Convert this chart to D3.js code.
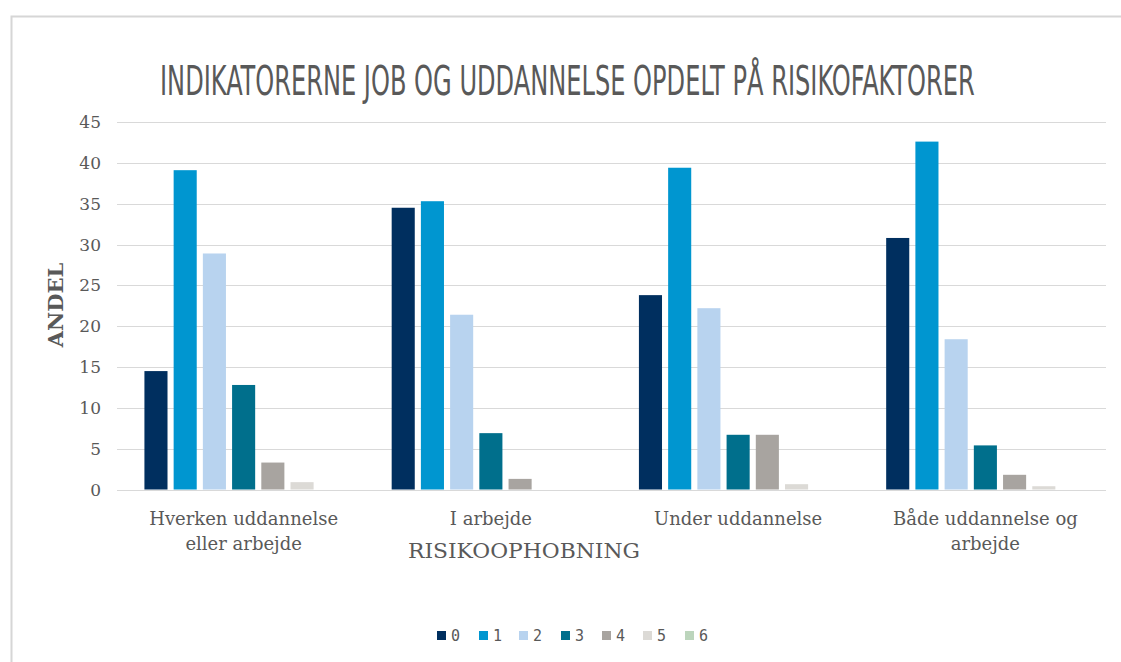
<!DOCTYPE html>
<html><head><meta charset="utf-8">
<script src="https://cdn.jsdelivr.net/npm/d3@7/dist/d3.min.js"></script>
<style>body{margin:0;background:#fff}svg{display:block}</style>
</head><body>
<svg id="chart" width="1121" height="662"></svg>
<script>
const categories = [["Hverken uddannelse","eller arbejde"],["I arbejde"],["Under uddannelse"],["Både uddannelse og","arbejde"]];
const seriesNames = ["0","1","2","3","4","5","6"];
const s0 = [14.5, 34.5, 23.8, 30.8];
const s1 = [39.1, 35.3, 39.4, 42.6];
const s2 = [28.9, 21.4, 22.2, 18.4];
const s3 = [12.8, 6.9, 6.7, 5.4];
const s4 = [3.3, 1.3, 6.7, 1.8];
const s5 = [0.9, 0, 0.65, 0.4];
const s6 = [0, 0, 0, 0];
const seriesValues = [s0,s1,s2,s3,s4,s5,s6];
const colors = ["#002f5f","#0096d0","#b8d3ef","#006f8c","#a8a4a0","#dcdad6","#bcd5bc"];
const yTicks = [0,5,10,15,20,25,30,35,40,45];

const svg = d3.select("#chart");
svg.append("path").attr("d","M11.5,662 V16.5 H1121").attr("fill","none").attr("stroke","#d6d6d6").attr("stroke-width",2);

const x0 = d3.scaleBand().domain(d3.range(categories.length)).range([120,1109]).paddingInner(0).paddingOuter(0);
const x1 = d3.scaleBand().domain(d3.range(seriesNames.length)).range([21.5, 247.25-21.5]).paddingInner(0.21).paddingOuter(0.1);
const y = d3.scaleLinear().domain([0,45]).range([489.5,122]);

svg.append("g").selectAll("line").data(yTicks).join("line")
  .attr("x1",117).attr("x2",1106)
  .attr("y1",d=>Math.round(y(d))+0.5).attr("y2",d=>Math.round(y(d))+0.5)
  .attr("stroke","#d9d9d9").attr("stroke-width",1.2);

svg.append("g").selectAll("text").data(yTicks).join("text")
  .attr("x",101).attr("y",d=>y(d)+6).attr("text-anchor","end")
  .attr("font-family","'DejaVu Serif', serif").attr("font-size",17).attr("fill","#595959")
  .text(d=>d);

const groups = svg.append("g").selectAll("g").data(categories).join("g")
  .attr("transform",(d,i)=>`translate(${x0(i)},0)`);
groups.selectAll("rect").data((d,i)=>seriesValues.map((s,k)=>({k,v:s[i]}))).join("rect")
  .attr("x",d=>x1(d.k)).attr("width",x1.bandwidth())
  .attr("y",d=>y(d.v)).attr("height",d=>y(0)-y(d.v))
  .attr("fill",d=>colors[d.k]);

svg.append("g").selectAll("text").data(categories).join("text")
  .attr("x",(d,i)=>x0(i)+x0.bandwidth()/2).attr("y",525)
  .attr("text-anchor","middle").attr("font-family","'DejaVu Serif', serif").attr("font-size",18).attr("fill","#595959")
  .each(function(d){ d3.select(this).selectAll("tspan").data(d).join("tspan")
    .attr("x",d3.select(this).attr("x")).attr("dy",(t,j)=>j?25:0).text(t=>t); });

svg.append("text").attr("x",408).attr("y",558).attr("textLength",232).attr("lengthAdjust","spacingAndGlyphs")
  .attr("font-family","'DejaVu Serif', serif").attr("font-size",20).attr("fill","#595959").text("RISIKOOPHOBNING");
svg.append("text").attr("transform","translate(63,305) rotate(-90)").attr("text-anchor","middle")
  .attr("font-family","'DejaVu Serif', serif").attr("font-weight","bold").attr("font-size",21).attr("fill","#595959").text("ANDEL");

const title = svg.append("text").attr("y",95)
  .attr("font-family","'Liberation Sans Narrow','DejaVu Sans Condensed',sans-serif").attr("font-size",41)
  .attr("fill","#595959").text("INDIKATORERNE JOB OG UDDANNELSE OPDELT PÅ RISIKOFAKTORER");
const tw = title.node().getComputedTextLength();
title.attr("transform",`translate(160,0) scale(${815/tw},1)`);

const legendX = [437,479,519,561,602,643,685];
const lg = svg.append("g").selectAll("g").data(seriesNames).join("g")
  .attr("transform",(d,i)=>`translate(${legendX[i]},631)`);
lg.append("rect").attr("width",9).attr("height",9).attr("fill",(d,i)=>colors[i]);
lg.append("text").attr("x",14).attr("y",10).attr("font-family","'DejaVu Sans Mono', monospace").attr("font-size",15).attr("fill","#595959").text(d=>d);
</script>
</body></html>
